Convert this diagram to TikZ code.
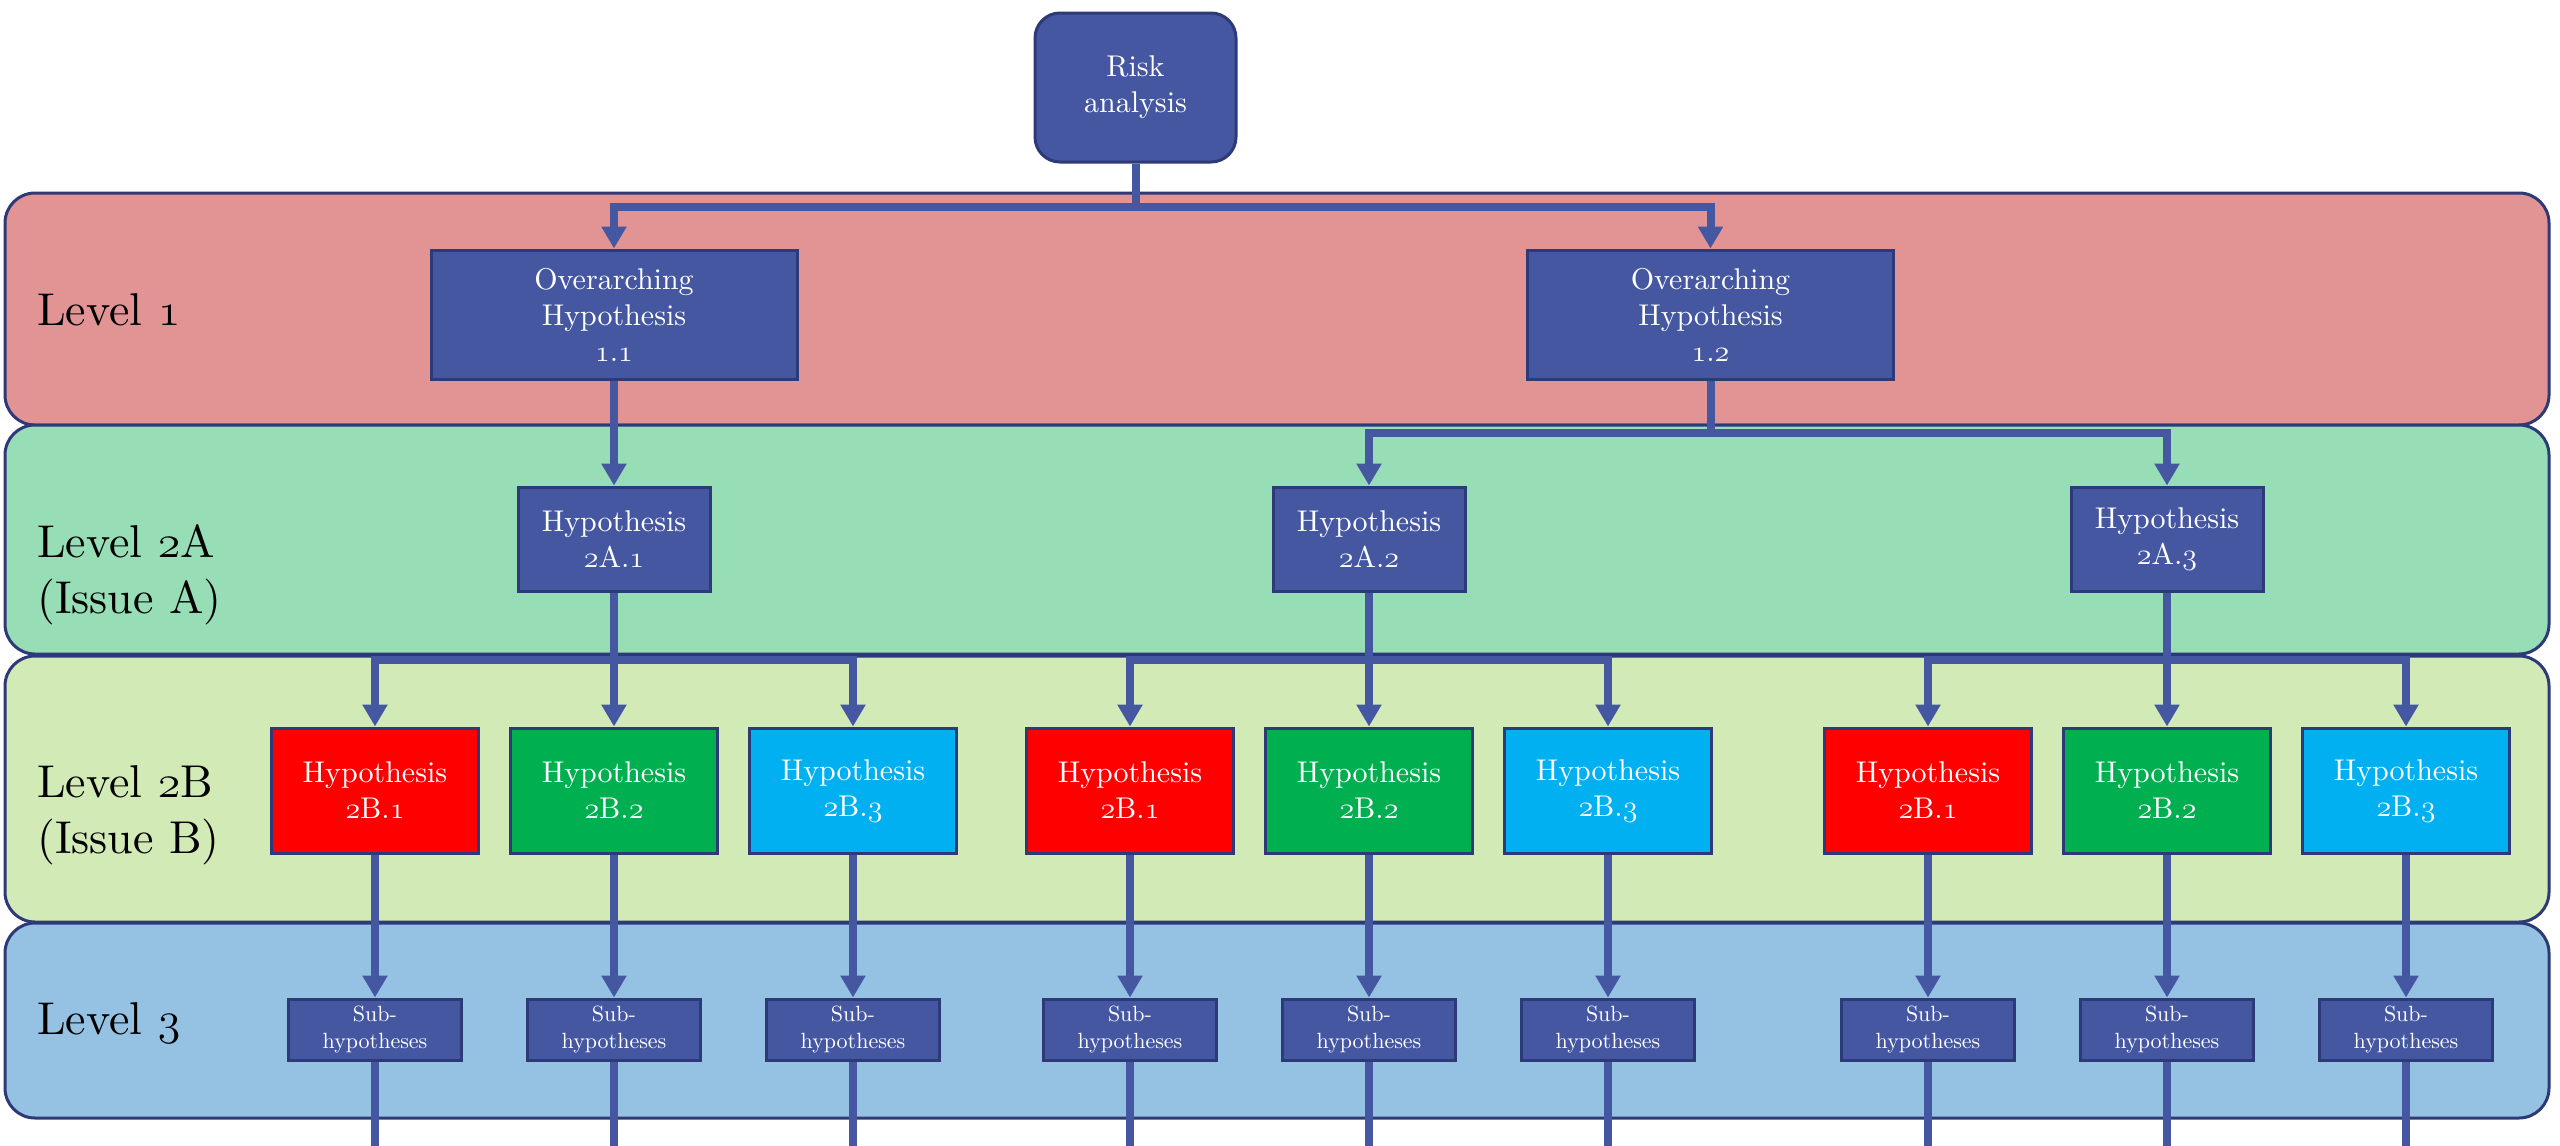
\RequirePackage{fix-cm}
\documentclass[tikz,border=0pt]{standalone}
\usepackage{fontspec}
\setmainfont{lmroman10-regular.otf}
\usetikzlibrary{arrows.meta}

% palette
\definecolor{edge}{HTML}{2E3A78}
\definecolor{boxblue}{HTML}{4557A1}
\definecolor{linkblue}{HTML}{4557A1}
\definecolor{bandone}{HTML}{E29494}
\definecolor{bandtwoa}{HTML}{97DDB5}
\definecolor{bandtwob}{HTML}{D1EAB6}
\definecolor{bandthree}{HTML}{95C2E2}
\definecolor{hred}{HTML}{FF0000}
\definecolor{hgreen}{HTML}{00B050}
\definecolor{hcyan}{HTML}{00B0F0}

% old-style figures taken from the math italic font
\newcommand\osf[1]{{\usefont{OML}{cmm}{m}{it}#1}}
\newcommand\boxfnt{\fontsize{30}{36}\selectfont}
\newcommand\subfnt{\fontsize{22}{27}\selectfont}
\newcommand\lvlfnt{\fontsize{46}{56}\selectfont}

\tikzset{
  band/.style={draw=edge, line width=3pt, rounded corners=30pt},
  hbox/.style={draw=edge, line width=3pt, fill=boxblue, text=white,
    align=center, inner sep=0pt, font=\boxfnt},
  riskbox/.style={hbox, rounded corners=25pt, minimum width=201pt, minimum height=149pt},
  lvone/.style={hbox, minimum width=366pt, minimum height=129pt},
  lvtwo/.style={hbox, minimum width=192pt, minimum height=104pt},
  issue/.style={hbox, minimum width=207pt, minimum height=125pt},
  subh/.style={hbox, minimum width=173pt, minimum height=61pt, font=\subfnt},
  lvl/.style={anchor=west, align=left, font=\lvlfnt, inner sep=0pt},
  conn/.style={draw=linkblue, line width=8pt},
  arr/.style={conn, -{Triangle[width=24pt,length=22pt]}},
}

\begin{document}
\begin{tikzpicture}[x=1pt, y=-1pt]
  \fill[white] (0,0) rectangle (2560,1146);
  \useasboundingbox (0,0) rectangle (2560,1146);

  % level bands
  \filldraw[band, fill=bandone]   (5,193) rectangle (2549,425);
  \filldraw[band, fill=bandtwoa]  (5,425) rectangle (2549,654);
  \filldraw[band, fill=bandtwob]  (5,656) rectangle (2549,922);
  \filldraw[band, fill=bandthree] (5,923) rectangle (2549,1118);

  % band captions
  \node[lvl] (cap1)  at (37,310)  {Level \osf{1}};
  \node[lvl] (cap2a) at (37,575)  {Level \osf{2}A\\(Issue A)};
  \node[lvl] (cap2b) at (37,815)  {Level \osf{2}B\\(Issue B)};
  \node[lvl] (cap3)  at (37,1023) {Level \osf{3}};

  % hypothesis tree
  \node[riskbox] (risk) at (1135.5,87.5) {Risk\\analysis};

  \node[lvone] (h11) at (614,314.5)  {Overarching\\Hypothesis\\\osf{1}.\osf{1}};
  \node[lvone] (h12) at (1710.5,314.5) {Overarching\\Hypothesis\\\osf{1}.\osf{2}};

  \node[lvtwo] (a1) at (614,539)  {Hypothesis\\\osf{2}A.\osf{1}};
  \node[lvtwo] (a2) at (1369,539) {Hypothesis\\\osf{2}A.\osf{2}};
  \node[lvtwo] (a3) at (2167,539) {Hypothesis\\\osf{2}A.\osf{3}};

  \foreach \g/\cx in {1/614, 2/1369, 3/2167} {
    \foreach \i/\col in {1/hred, 2/hgreen, 3/hcyan} {
      \node[issue, fill=\col] (b\g\i) at ({\cx+(\i-2)*239},790.5)
        {Hypothesis\\\osf{2}B.\osf{\i}};
      \node[subh] (s\g\i) at ({\cx+(\i-2)*239},1029.5) {Sub-\\hypotheses};
    }
  }

  % junction points of the connectors
  \coordinate (j0) at (risk.south |- 0,207);
  \coordinate (j1) at (h12.south |- 0,433);
  \coordinate (floor) at (0,1146);
  \foreach \g in {1,2,3} {
    \coordinate (ja\g) at (a\g.south |- 0,660);
  }

  % connectors
  \draw[conn] (risk.south) -- (j0);
  \draw[arr] (j0) -| (h11.north);
  \draw[arr] (j0) -| (h12.north);

  \draw[arr] (h11.south) -- (a1.north);
  \draw[conn] (h12.south) -- (j1);
  \draw[arr] (j1) -| (a2.north);
  \draw[arr] (j1) -| (a3.north);

  \foreach \g in {1,2,3} {
    \draw[conn] (a\g.south) -- (ja\g);
    \draw[arr] (ja\g) -| (b\g1.north);
    \draw[arr] (ja\g) -- (b\g2.north);
    \draw[arr] (ja\g) -| (b\g3.north);
    \foreach \i in {1,2,3} {
      \draw[arr] (b\g\i.south) -- (s\g\i.north);
      \draw[conn] (s\g\i.south) -- (s\g\i.south |- floor);
    }
  }
\end{tikzpicture}
\end{document}
